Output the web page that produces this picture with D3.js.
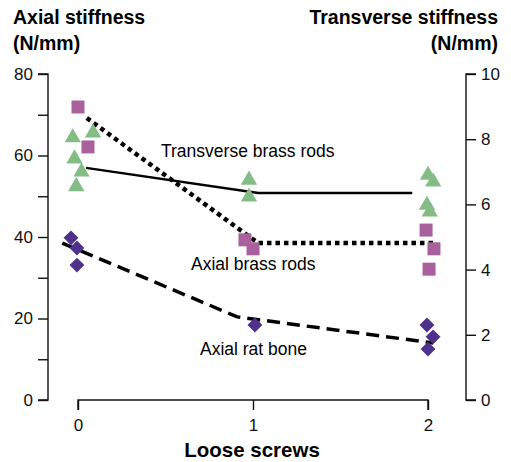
<!DOCTYPE html>
<html>
<head>
<meta charset="utf-8">
<script src="https://cdn.jsdelivr.net/npm/d3@7"></script>
<style>
  body { margin: 0; background: #fff; }
  svg { display: block; font-family: "Liberation Sans", Arial, Helvetica, sans-serif; }
  .axis path, .axis line { stroke: #111; stroke-width: 1.4; }
  .axis text { font-size: 17px; fill: #111; }
</style>
</head>
<body>
<script>
var width = 511, height = 462;

// loose screws (x, with small jitter as plotted) / stiffness values
var leftTicks = [0, 20, 40, 60, 80];
var rightTicks = [0, 2, 4, 6, 8, 10];
var screwTicks = [0, 1, 2];

// transverse brass rods, right axis (N/mm)
var transScrews = [-0.03, 0.086, -0.02, 0.02, -0.01, 0.977, 0.977, 2.0, 2.03, 1.994, 2.01];
var transValues = [8.05, 8.2, 7.4, 7.0, 6.55, 6.75, 6.23, 6.9, 6.69, 5.98, 5.77];

// axial brass rods, left axis (N/mm)
var brassScrews = [0, 0.057, 0.954, 1.0, 1.989, 2.034, 2.006];
var brassValues = [71.9, 62.1, 39.3, 37.1, 41.7, 37.1, 32.1];

// axial rat bone, left axis (N/mm)
var boneScrews = [-0.04, -0.006, -0.006, 1.011, 1.994, 2.029, 2.0];
var boneValues = [39.8, 37.3, 33.1, 18.4, 18.4, 15.5, 12.5];

// mean lines
var transLineX = [0.046, 1.03, 1.91];
var transLineY = [7.12, 6.35, 6.35];
var brassLineX = [0.05, 1.03, 2.03];
var brassLineY = [69.2, 38.5, 38.5];
var boneLineX = [-0.09, 0.91, 2.03];
var boneLineY = [38.5, 20.4, 14.0];

var green = '#84bc85', pink = '#a9619d', purple = '#4d318b';

var svg = d3.select('body').append('svg')
    .attr('width', width)
    .attr('height', height);

var x = d3.scaleLinear().domain([0, 2]).range([78, 428]);
var yLeft = d3.scaleLinear().domain([0, 80]).range([400, 74]);
var yRight = d3.scaleLinear().domain([0, 10]).range([400, 74]);

// axes
svg.append('g')
    .attr('class', 'axis')
    .attr('transform', 'translate(48,0)')
    .call(d3.axisLeft(yLeft).tickValues(d3.range(0, 81, 10)).tickSize(10).tickPadding(5)
        .tickFormat(function(d) { return leftTicks.indexOf(d) >= 0 ? d : ''; }))
    .call(function(g) { g.select('.domain').attr('d', 'M-10,' + yLeft(80) + 'H0V' + yLeft(0) + 'H-10'); });

svg.append('g')
    .attr('class', 'axis')
    .attr('transform', 'translate(466,0)')
    .call(d3.axisRight(yRight).tickValues(rightTicks).tickSize(10).tickPadding(5))
    .call(function(g) { g.select('.domain').attr('d', 'M10,' + yRight(10) + 'H0V' + yRight(0) + 'H10'); });

svg.append('g')
    .attr('class', 'axis')
    .attr('transform', 'translate(0,400)')
    .call(d3.axisBottom(x).tickValues(screwTicks).tickSize(10).tickPadding(9).tickFormat(d3.format('d')))
    .call(function(g) { g.select('.domain').attr('d', 'M' + x(0) + ',10V0H' + x(2) + 'V10'); });

svg.selectAll('.axis text').style('font-size', '17px');

// titles
svg.append('text').attr('x', 13).attr('y', 24)
    .style('font-size', '19.5px').style('font-weight', 'bold').text('Axial stiffness');
svg.append('text').attr('x', 13).attr('y', 50)
    .style('font-size', '19.5px').style('font-weight', 'bold').text('(N/mm)');
svg.append('text').attr('x', 498).attr('y', 24).attr('text-anchor', 'end')
    .style('font-size', '19.5px').style('font-weight', 'bold').text('Transverse stiffness');
svg.append('text').attr('x', 498).attr('y', 50).attr('text-anchor', 'end')
    .style('font-size', '19.5px').style('font-weight', 'bold').text('(N/mm)');
svg.append('text').attr('x', 252).attr('y', 457).attr('text-anchor', 'middle')
    .style('font-size', '20.5px').style('font-weight', 'bold').text('Loose screws');

// lines
function linePts(xs, ys, ys2) {
    return xs.map(function(v, i) { return [x(v), ys2(ys[i])]; });
}
var line = d3.line();

svg.append('path')
    .attr('d', line(linePts(transLineX, transLineY, yRight)))
    .style('fill', 'none').style('stroke', '#000').style('stroke-width', 2.5);
svg.append('path')
    .attr('d', line(linePts(brassLineX, brassLineY, yLeft)))
    .style('fill', 'none').style('stroke', '#000').style('stroke-width', 4.5)
    .style('stroke-dasharray', '4.5,4');
svg.append('path')
    .attr('d', line(linePts(boneLineX, boneLineY, yLeft)))
    .style('fill', 'none').style('stroke', '#000').style('stroke-width', 3.5)
    .style('stroke-dasharray', '13,7');

// markers
var tri = d3.symbol().type(d3.symbolTriangle).size(115);
svg.selectAll('.tri')
    .data(transScrews)
    .enter().append('path')
    .attr('class', 'tri')
    .attr('d', tri)
    .attr('transform', function(d, i) {
        return 'translate(' + x(d) + ',' + yRight(transValues[i]) + ')';
    })
    .style('fill', green);

var sq = d3.symbol().type(d3.symbolSquare).size(169);
svg.selectAll('.sq')
    .data(brassScrews)
    .enter().append('path')
    .attr('class', 'sq')
    .attr('d', sq)
    .attr('transform', function(d, i) {
        return 'translate(' + x(d) + ',' + yLeft(brassValues[i]) + ')';
    })
    .style('fill', pink);

var dia = d3.symbol().type(d3.symbolSquare).size(110);
svg.selectAll('.dia')
    .data(boneScrews)
    .enter().append('path')
    .attr('class', 'dia')
    .attr('d', dia)
    .attr('transform', function(d, i) {
        return 'translate(' + x(d) + ',' + yLeft(boneValues[i]) + ') rotate(45)';
    })
    .style('fill', purple);

// annotations
svg.append('text').attr('x', 161).attr('y', 157)
    .style('font-size', '17.5px').text('Transverse brass rods');
svg.append('text').attr('x', 191).attr('y', 270)
    .style('font-size', '17.5px').text('Axial brass rods');
svg.append('text').attr('x', 200).attr('y', 355)
    .style('font-size', '17.5px').text('Axial rat bone');
</script>
</body>
</html>
